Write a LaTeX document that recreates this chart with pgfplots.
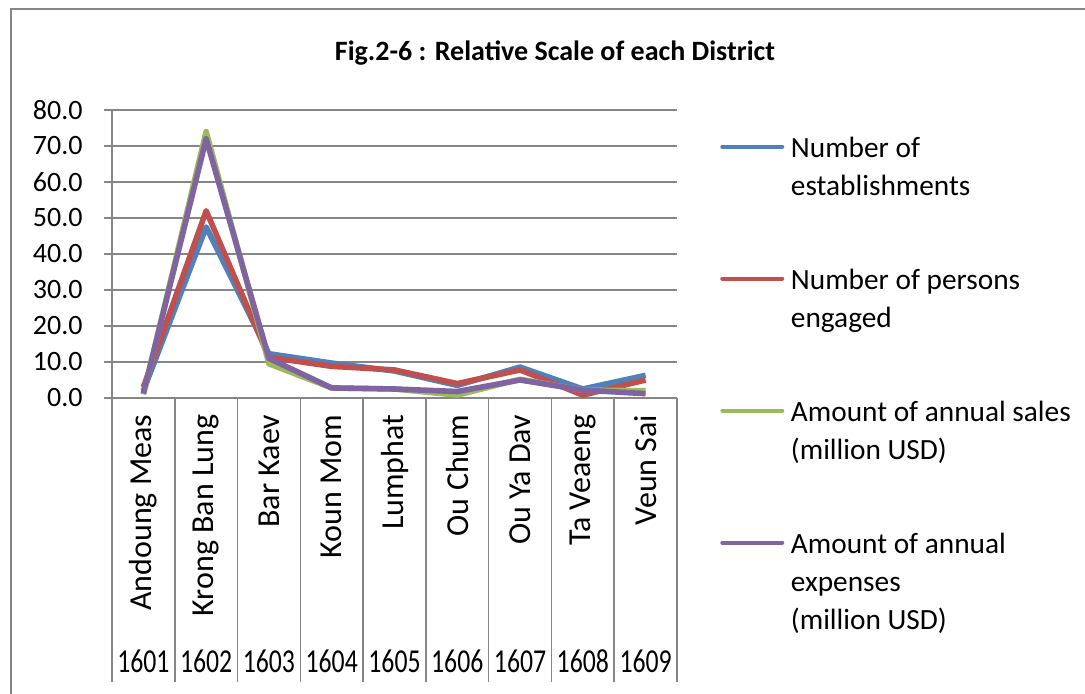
\documentclass[border=0pt]{standalone}
\usepackage{pgfplots}
\pgfplotsset{compat=1.18}
\usepackage{fontspec}
\setmainfont{Carlito}
\definecolor{cBlue}{HTML}{4F81BD}
\definecolor{cRed}{HTML}{C0504D}
\definecolor{cGreen}{HTML}{9BBB59}
\definecolor{cPurple}{HTML}{8064A2}
\definecolor{gridgray}{RGB}{134,134,134}
\begin{document}
\begin{tikzpicture}
\useasboundingbox (0,0) rectangle (813.75pt,-519.75pt);
\draw[gridgray, line width=1.6pt] (8.25pt,-540pt) -- (8.25pt,-6.75pt) -- (840pt,-6.75pt);
\node[font=\bfseries\fontsize{21}{25}\selectfont] at (416.25pt,-39.75pt) {Fig.2-6 : Relative Scale of each District};
\begin{axis}[
  at={(84pt,-82.5pt)}, anchor=north west,
  scale only axis, width=423.75pt, height=216pt,
  xmin=0.5, xmax=9.5, ymin=0, ymax=80,
  clip=false,
  axis x line=bottom, axis y line=left,
  axis line style={-, draw=gridgray, line width=1.1pt},
  ytick={0,10,...,80},
  ymajorgrids, grid style={gridgray, line width=1.1pt},
  ytick align=outside,
  ytick style={draw=gridgray, line width=1.1pt},
  major tick length=6pt,
  yticklabel style={/pgf/number format/fixed, /pgf/number format/fixed zerofill, /pgf/number format/precision=1, /pgf/number format/assume math mode=true, font=\fontsize{21}{25}\selectfont},
  yticklabel shift=12.5pt,
  xtick={1,...,9},
  xticklabels={Andoung Meas,Krong Ban Lung,Bar Kaev,Koun Mom,Lumphat,Ou Chum,Ou Ya Dav,Ta Veaeng,Veun Sai},
  x tick style={draw=none},
  x tick label style={rotate=90, anchor=east, font=\fontsize{24}{28}\selectfont},
  xticklabel shift=6pt,
  extra x ticks={0.5,1.5,...,9.5},
  extra x tick labels={},
  extra x tick style={xtick align=outside, major tick length=213pt, x tick style={draw=gridgray, line width=1.1pt}, grid=none},
  legend style={at={(1,1)}, anchor=north west, xshift=32.25pt, yshift=-17.75pt,
    draw=none, fill=none, inner sep=0pt, row sep=49.5pt, column sep=3pt,
    font=\fontsize{22}{28.5}\selectfont,
    cells={anchor=north west, align=left}},
  legend image code/.code={\draw[#1, line width=3pt, line cap=round] (0pt,-9.5pt) -- (45pt,-9.5pt);},
  every axis plot/.append style={line width=4.2pt, line join=round, no markers},
]
\addplot[cBlue] coordinates {(1,2.0) (2,47.5) (3,12.3) (4,9.7) (5,7.5) (6,3.5) (7,8.6) (8,2.5) (9,6.3)};
\addlegendentry{Number of\\establishments}
\addplot[cRed] coordinates {(1,3.0) (2,52.0) (3,11.3) (4,8.8) (5,7.8) (6,4.0) (7,7.8) (8,0.8) (9,5.0)};
\addlegendentry{Number of persons\\engaged}
\addplot[cGreen] coordinates {(1,1.0) (2,74.0) (3,9.5) (4,2.8) (5,2.5) (6,0.8) (7,5.2) (8,2.2) (9,2.0)};
\addlegendentry{Amount of annual sales\\(million USD)}
\addplot[cPurple] coordinates {(1,1.3) (2,72.0) (3,11.0) (4,2.8) (5,2.5) (6,1.8) (7,5.0) (8,2.2) (9,1.2)};
\addlegendentry{Amount of annual\\expenses\\(million USD)}
\pgfplotsinvokeforeach{1,...,9}{
  \node[anchor=base, font=\fontsize{19.3}{23}\selectfont, inner sep=0pt] at (axis cs:#1,0) [yshift=-205.5pt] {\scalebox{1}[1.3]{160#1}};
}
\end{axis}
\end{tikzpicture}
\end{document}
